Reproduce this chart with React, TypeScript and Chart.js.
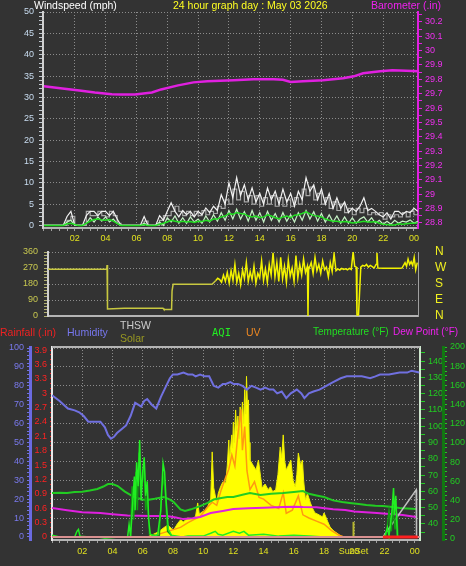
import React, { useEffect, useRef } from 'react';
import { Chart, registerables } from 'chart.js';
Chart.register(...registerables);

const FONT = "'Liberation Sans', Arial, sans-serif";
const BG = '#333333';
const GRID = '#8c8c8c';

// ---------- shared hour axis ----------
const hourTicks = [2, 4, 6, 8, 10, 12, 14, 16, 18, 20, 22, 24];
const hourLabels = ['02', '04', '06', '08', '10', '12', '14', '16', '18', '20', '22', '00'];
const sunsetHour = 19.95;
const sunsetLabel = 'SunSet';

// ---------- panel 1: wind (15-minute samples) + barometer ----------
const windStep = 0.25;
const windGust = [
  0, 0, 0, 0, 0, 0,
  2.1, 3.3, 0, 0, 0,
  2.3, 3.3, 3.3, 2.3, 3.3, 3.3, 2.3, 3.3, 1.5,
  0, 0, 0, 0, 0, 0,
  2.1, 0, 0, 0,
  2.3, 1.2, 3.3, 5.3, 3.3, 2.0, 3.5, 2.5, 3.3, 2.0,
  3.3, 2.5, 4.1, 3.0, 4.5, 3.5, 7.2, 5.0, 10.0, 6.5,
  11.2, 7.0, 9.5, 6.0, 8.8, 5.5, 7.5, 5.0, 8.8, 6.0,
  8.0, 5.0, 8.5, 5.5, 7.5, 4.5, 8.0, 6.0, 11.2, 8.0,
  9.5, 6.0, 8.5, 5.0, 7.5, 4.0, 6.5, 4.0, 5.5, 3.0,
  4.0, 3.3, 4.5, 6.5, 3.5, 4.0, 3.3, 2.5, 2.0, 3.0,
  1.5, 3.3, 3.3, 2.5, 3.3, 3.0, 4.0, 3.3,
];
const windHigh = [
  0, 0, 0, 0, 0, 0,
  1.2, 2.1, 0, 0, 0,
  3.3, 2.3, 2.3, 3.3, 2.3, 2.0, 3.3, 2.3, 0.5,
  0, 0, 0, 0, 0, 0,
  1.0, 0, 0, 0,
  1.2, 2.3, 2.3, 3.3, 4.5, 3.3, 2.3, 3.3, 2.3, 3.3,
  2.3, 3.5, 2.5, 3.3, 2.8, 4.5, 4.0, 6.0, 5.0, 8.5,
  6.0, 8.0, 5.5, 7.0, 5.0, 7.0, 4.5, 6.5, 5.0, 7.0,
  4.5, 6.5, 4.5, 6.0, 4.5, 6.5, 5.0, 8.5, 7.0, 9.0,
  6.0, 7.5, 5.0, 6.5, 4.0, 5.5, 3.5, 5.0, 3.0, 4.0,
  2.5, 4.0, 3.0, 4.0, 2.5, 3.0, 2.5, 3.0, 1.5, 2.5,
  2.0, 2.5, 2.0, 3.0, 2.0, 3.3, 2.5, 3.0,
];
const windSpeed = [
  0, 0, 0, 0, 0, 0,
  0.8, 1.2, 0, 0, 0,
  0.5, 1.8, 0.8, 2.0, 1.0, 2.0, 0.8, 1.5, 0.5,
  0, 0, 0, 0, 0, 0,
  0.5, 0, 0, 0,
  0.8, 0, 1.8, 0.8, 2.2, 0.5, 1.8, 0.5, 2.0, 0.8,
  1.5, 0.5, 2.2, 0.8, 2.5, 1.0, 3.0, 1.2, 3.5, 1.5,
  3.8, 1.5, 3.2, 1.0, 3.5, 1.2, 3.0, 0.8, 3.3, 1.2,
  2.8, 0.8, 3.0, 1.0, 2.5, 0.8, 3.0, 1.2, 3.5, 1.5,
  3.2, 1.0, 2.8, 0.8, 2.5, 0.8, 2.2, 0.5, 2.0, 0.5,
  1.8, 0.5, 1.5, 2.0, 0.8, 1.8, 0.5, 1.2, 0.3, 1.0,
  0.3, 1.2, 0.5, 1.0, 0.8, 1.3, 0.5, 1.0,
];
const windAvg = [
  0, 0, 0, 0, 0, 0,
  0.4, 0.5, 0.2, 0, 0,
  0.5, 1.0, 1.4, 1.5, 1.3, 1.2, 1.4, 1.0, 0.5,
  0, 0, 0, 0, 0, 0,
  0.2, 0, 0, 0,
  0.3, 0.5, 0.8, 1.2, 1.0, 0.8, 1.0, 0.8, 0.9, 0.7,
  1.0, 0.9, 1.2, 1.0, 1.5, 1.5, 2.0, 2.2, 2.8, 2.6,
  3.0, 2.8, 2.7, 2.2, 2.0, 2.2, 1.8, 2.0, 2.5, 2.2,
  1.8, 1.6, 2.0, 2.2, 1.8, 2.4, 2.5, 2.8, 3.2, 2.7,
  2.3, 2.2, 2.0, 1.5, 1.2, 1.0, 1.0, 0.8, 0.9, 0.8,
  0.6, 0.7, 0.8, 1.0, 0.8, 0.8, 0.9, 0.5, 0.3, 0.2,
  0.1, 0.1, 0.4, 0.3, 0.4, 0.5, 0.5, 0.6,
];
const windTicks = [0, 5, 10, 15, 20, 25, 30, 35, 40, 45, 50];

const baroHours = [0, 1.2, 2.3, 3.3, 4.4, 5.0, 5.9, 7.0, 7.6, 8.7, 9.7, 10.6, 12.3, 13.6, 14.9, 15.5, 16.0, 16.8, 18.1, 19.4, 20.1, 20.7, 21.8, 22.6, 23.5, 24.26];
const baroValues = [29.752, 29.737, 29.723, 29.709, 29.697, 29.695, 29.695, 29.709, 29.73, 29.758, 29.779, 29.786, 29.793, 29.8, 29.8, 29.797, 29.782, 29.786, 29.793, 29.807, 29.821, 29.842, 29.856, 29.863, 29.86, 29.856];
const baroTicks = [28.8, 28.9, 29.0, 29.1, 29.2, 29.3, 29.4, 29.5, 29.6, 29.7, 29.8, 29.9, 30.0, 30.1, 30.2];
const baroLabels = ['28.8', '28.9', '29', '29.1', '29.2', '29.3', '29.4', '29.5', '29.6', '29.7', '29.8', '29.9', '30', '30.1', '30.2'];

// ---------- panel 2: wind direction ----------
const dirHours = [
  0, 3.85, 3.87, 3.9, 5.0, 6.5, 7.54, 7.6, 8.1, 8.13, 8.2, 10.75,
  11.0, 11.125, 11.25, 11.375, 11.5, 11.625, 11.75, 11.875, 12.0, 12.125, 12.25, 12.375, 12.5, 12.625, 12.75, 12.875,
  13.0, 13.125, 13.25, 13.375, 13.5, 13.625, 13.75, 13.875, 14.0, 14.125, 14.25, 14.375, 14.5, 14.625, 14.75, 14.875,
  15.0, 15.125, 15.25, 15.375, 15.5, 15.625, 15.75, 15.875, 16.0, 16.125, 16.25, 16.375, 16.5, 16.625, 16.75, 16.875,
  17.0, 17.04, 17.08, 17.25, 17.375, 17.5, 17.625, 17.75, 17.875, 18.0, 18.125, 18.25, 18.375, 18.5, 18.625, 18.75, 18.875,
  19.0, 19.125, 19.25, 19.375, 19.5, 19.625, 19.75, 19.875, 20.0, 20.1, 20.2, 20.25, 20.35, 20.5, 20.625, 20.75, 20.875,
  21.0, 21.125, 21.25, 21.375, 21.5, 21.56, 21.62, 22.0, 22.5, 23.0, 23.2, 23.3, 23.4, 23.5, 23.6, 23.7, 23.8, 23.9, 24.0, 24.1, 24.2,
];
const dirValues = [
  263, 263, 287, 40, 43, 44, 43, 37, 37, 140, 178, 178,
  200, 212, 205, 190, 230, 195, 245, 185, 255, 200, 290, 190, 240, 175, 260, 210,
  300, 195, 250, 205, 280, 185, 240, 215, 310, 200, 265, 190, 290, 230, 356, 220,
  300, 195, 330, 210, 280, 190, 315, 225, 270, 195, 340, 215, 290, 230, 320, 245,
  280, 0, 260, 300, 240, 330, 255, 290, 240, 310, 260, 275, 220, 300, 250, 350, 255,
  265, 258, 268, 262, 265, 260, 268, 262, 360, 280, 275, 5, 5, 275, 285, 280, 290,
  275, 285, 278, 270, 290, 355, 270, 268, 268, 268, 270, 285, 300, 280, 320, 290, 305, 285, 330, 260, 300,
];
const dirTicks = [0, 90, 180, 270, 360];
const compassLabels = ['N', 'E', 'S', 'W', 'N'];

// ---------- panel 3 ----------
const humHours = [0, 0.5, 1.05, 1.5, 1.8, 2.1, 2.4, 2.8, 3.2, 3.5, 3.7, 3.9, 4.1, 4.3, 4.6, 4.9, 5.2, 5.5, 5.7, 5.9, 6.1, 6.3, 6.6, 6.9, 7.2, 7.5, 7.8, 8.0, 8.3, 8.7, 9.0, 9.3, 9.5, 9.8, 10.1, 10.4, 10.7, 11.0, 11.3, 11.5, 11.8, 12.0, 12.3, 12.6, 12.9, 13.2, 13.5, 13.8, 14.1, 14.4, 14.65, 14.9, 15.2, 15.5, 15.8, 16.2, 16.5, 16.7, 17.0, 17.3, 17.7, 18.15, 18.6, 19.1, 19.5, 19.9, 20.5, 21.05, 21.4, 21.7, 22.3, 23.0, 23.5, 23.8, 24.3];
const humValues = [75, 72, 68, 67, 66, 64, 61, 61, 61, 58, 54, 52, 53, 55, 57, 59, 64, 71, 70, 69, 72, 73, 70, 68, 74, 79, 84, 86, 86, 87, 86, 86, 85, 86, 85, 85, 80, 79, 81, 81, 82, 81, 81, 80, 78, 80, 79, 78, 79, 78, 78, 76, 77, 73.5, 76, 78, 76, 73.5, 76, 77, 78, 80, 82, 84, 85, 85, 85, 84, 85, 86, 86, 87, 87, 88, 87];

const tempHours = [0, 0.5, 1.0, 1.5, 2.0, 2.5, 3.0, 3.4, 3.7, 4.0, 4.35, 4.8, 5.4, 6.0, 6.3, 6.8, 7.4, 7.8, 8.05, 8.5, 8.8, 9.2, 9.8, 10.3, 10.7, 11.2, 11.6, 12.0, 12.6, 13.1, 13.8, 14.5, 15.3, 16.0, 16.6, 17.0, 17.5, 18.0, 18.6, 19.2, 19.7, 20.3, 20.8, 21.4, 21.9, 22.5, 23.0, 23.5, 24.1];
const tempValues = [59, 59.2, 59, 59.6, 59.8, 60.5, 61.5, 63, 64.5, 64.5, 63.3, 60, 56.6, 55, 54.7, 55.5, 56.6, 55, 53.5, 49, 48, 49, 51, 53, 55, 56, 56.6, 56.6, 58, 59, 57.8, 58.5, 59, 59.6, 60.2, 58.5, 57.5, 56.6, 54.5, 53.5, 52.9, 52.3, 51.7, 51.2, 51, 50.5, 49.8, 49.5, 49.2];

const dewHours = [0, 1.0, 2.0, 3.2, 4.0, 5.0, 6.5, 7.6, 8.2, 8.7, 9.3, 9.8, 10.5, 11.3, 12.0, 13.0, 14.0, 15.3, 16.0, 16.6, 17.5, 18.6, 19.4, 20.0, 20.5, 21.5, 22.5, 23.2, 24.1];
const dewValues = [49.8, 48.5, 47.2, 46.7, 46, 45.2, 44.9, 44.9, 44, 43, 43.5, 44.3, 46.7, 48, 49.2, 49.6, 50, 50.4, 50.6, 50.4, 50.3, 49, 48.6, 47.6, 47.4, 46.8, 46, 45.5, 44.3];

const solarHours = [6.3, 6.6, 7.0, 7.2, 7.5, 7.66, 7.9, 8.05, 8.3, 8.5, 8.7, 8.98, 9.3, 9.5, 9.64, 9.75, 9.83, 10.1, 10.3, 10.5, 10.6, 10.7, 10.9, 11.0, 11.15, 11.3, 11.5, 11.6, 11.7, 11.75, 11.8, 11.9, 11.95, 12.0, 12.07, 12.15, 12.22, 12.3, 12.38, 12.45, 12.52, 12.6, 12.68, 12.75, 12.82, 12.87, 12.93, 13.0, 13.05, 13.1, 13.3, 13.5, 13.66, 13.8, 13.9, 14.1, 14.3, 14.45, 14.6, 14.8, 14.95, 15.1, 15.2, 15.3, 15.4, 15.5, 15.65, 15.8, 15.95, 16.1, 16.2, 16.3, 16.45, 16.57, 16.65, 16.77, 16.9, 17.1, 17.25, 17.4, 17.6, 17.9, 18.0, 18.1, 18.25, 18.4, 18.6, 18.75, 19.0, 19.1, 19.4];
const solarValues = [0, 10, 25, 37, 55, 63, 45, 37, 70, 90, 80, 100, 95, 110, 180, 120, 127, 140, 160, 200, 450, 260, 180, 230, 265, 290, 286, 380, 513, 400, 460, 540, 470, 608, 500, 672, 560, 640, 520, 688, 580, 714, 600, 780, 650, 850, 700, 725, 500, 407, 380, 354, 407, 320, 259, 280, 250, 265, 240, 249, 330, 476, 420, 540, 400, 354, 380, 407, 300, 265, 330, 444, 380, 407, 300, 196, 230, 180, 150, 127, 120, 106, 127, 110, 80, 53, 35, 26, 12, 5, 0];

const uvHours = [6.5, 7.5, 8.5, 9.0, 9.8, 10.3, 10.6, 10.9, 11.2, 11.5, 11.7, 11.9, 12.1, 12.3, 12.5, 12.6, 12.75, 12.9, 13.1, 13.4, 13.7, 14.0, 14.5, 15.0, 15.3, 15.5, 15.9, 16.3, 16.6, 17.0, 17.5, 18.0, 18.5, 19.0, 19.3];
const uvValues = [0, 0.3, 0.6, 0.9, 1.3, 1.9, 2.2, 2.0, 3.0, 3.8, 4.3, 5.2, 4.5, 6.5, 8.1, 5.5, 7.0, 4.2, 3.0, 3.5, 2.5, 2.4, 2.0, 1.8, 2.8, 1.5, 1.7, 2.6, 1.4, 1.2, 1.0, 0.8, 0.4, 0.1, 0];

const aqiHours = [0, 0.5, 1.0, 1.5, 1.65, 1.75, 1.85, 2.5, 3.0, 3.5, 4.5, 5.0, 5.1, 5.2, 5.35, 5.45, 5.5, 5.6, 5.7, 5.8, 5.9, 6.0, 6.1, 6.2, 6.3, 6.4, 6.5, 6.8, 7.0, 7.2, 7.35, 7.45, 7.55, 7.7, 7.9, 8.3, 8.6, 9.0, 10.0, 10.5, 10.8, 11.0, 11.3, 12.0, 12.4, 12.7, 13.0, 14.0, 15.0, 16.0, 17.0, 18.0, 19.0, 20.0, 21.0, 22.0, 22.2, 22.3, 22.5, 22.6, 22.65, 22.75, 22.85, 23.0, 24.0];
const aqiValues = [4, 2, 2, 2, 8, 10, 3, 2, 2, 1, 2, 2, 15, 3, 40, 65, 30, 80, 55, 103, 40, 70, 85, 45, 60, 20, 5, 3, 5, 30, 79, 70, 40, 10, 4, 3, 2, 3, 3, 6, 8, 5, 4, 8, 6, 8, 4, 5, 3, 4, 3, 2, 2, 2, 2, 2, 12, 3, 30, 53, 25, 45, 3, 2, 2];

const aqiHourHours = [5.2, 5.3, 5.4, 5.55, 5.65, 5.75, 5.85, 6.0, 6.1, 6.2, 6.3, 6.45, 7.1, 7.25, 7.4, 7.5, 7.65, 8.0, 15, 22.1, 22.3, 22.45, 22.55, 22.7, 22.8, 22.9];
const aqiHourValues = [2, 55, 20, 70, 30, 90, 50, 60, 75, 30, 45, 5, 3, 50, 65, 45, 8, 2, null, 2, 30, 8, 33, 10, 28, 2];

const thswHours = [21.9, 24.1, 24.12];
const thswValues = [32, 61, 32];

const rainHours = [0, 24.35];
const rainValues = [0, 0];
const rainRateHours = [21.9, 24.2];
const rainRateValues = [0, 0];

const humTicks = [0, 10, 20, 30, 40, 50, 60, 70, 80, 90, 100];
const rainTicks = [0, 0.3, 0.6, 0.9, 1.2, 1.5, 1.8, 2.1, 2.4, 2.7, 3.0, 3.3, 3.6, 3.9];
const rainLabels = ['0', '0.3', '0.6', '0.9', '1.2', '1.5', '1.8', '2.1', '2.4', '2.7', '3', '3.3', '3.6', '3.9'];
const tempTicks = [40, 50, 60, 70, 80, 90, 100, 110, 120, 130, 140];
const aqiTicks = [0, 20, 40, 60, 80, 100, 120, 140, 160, 180, 200];

// ---------- helpers ----------
const pts = (xs: number[], ys: (number | null)[]) => xs.map((x, i) => ({ x, y: ys[i] }));
const near = (a: number, b: number) => Math.abs(a - b) < 1e-6;
const steps = (from: number, to: number, step: number) => {
  const out: number[] = [];
  for (let v = from; v <= to + 1e-9; v += step) out.push(Math.round(v * 1000) / 1000);
  return out;
};
const setTicks = (vals: number[]) => (ax: any) => { ax.ticks = vals.map((v) => ({ value: v })); };
const labelFrom = (ticks: number[], labels: string[]) => (v: any) => {
  const k = ticks.findIndex((t) => near(t, Number(v)));
  return k >= 0 ? labels[k] : '';
};
const gridAt = (ticks: number[], color = GRID) => (c: any) =>
  c.tick && ticks.some((t) => near(t, c.tick.value)) ? color : 'transparent';
const f9 = { family: FONT, size: 9 };
const line = (extra: any) => ({ pointRadius: 0, borderWidth: 1.5, tension: 0, ...extra });
const baseOpts = (padTop: number) => ({
  responsive: false,
  animation: false as const,
  events: [] as any[],
  layout: { padding: { top: padTop, left: 0, right: 0, bottom: 0 } },
  plugins: { legend: { display: false }, tooltip: { enabled: false }, title: { display: false } },
});

const halfHours = steps(0, 24, 0.5);
const hourLabelCb = labelFrom(hourTicks, hourLabels);

function cfgWind(): any {
  const windTimes = windGust.map((_, i) => i * windStep);
  return {
    type: 'line',
    data: {
      datasets: [
        line({ data: pts(baroHours, baroValues), yAxisID: 'yB', borderColor: '#e020e0', borderWidth: 2.5 }),
        line({ data: pts(windTimes, windAvg), yAxisID: 'yW', borderColor: '#22dd22', borderWidth: 1.5 }),
        line({ data: pts(windTimes, windSpeed), yAxisID: 'yW', borderColor: '#c6f2c6', borderWidth: 1.2 }),
        line({ data: pts(windTimes, windGust), yAxisID: 'yW', borderColor: '#f2f2f2', borderWidth: 1.2 }),
        line({ data: pts(windTimes, windHigh), yAxisID: 'yW', borderColor: '#a8a8a8', borderWidth: 1.2, stepped: true }),
      ],
    },
    options: {
      ...baseOpts(12),
      scales: {
        x: {
          type: 'linear', min: -0.06, max: 24.26,
          afterFit: (s: any) => { s.height = 18; },
          afterBuildTicks: setTicks(halfHours),
          ticks: { autoSkip: false, maxRotation: 0, minRotation: 0, padding: 2, color: '#e0e020', font: f9, callback: hourLabelCb },
          grid: { color: gridAt(hourTicks), tickColor: '#a0a0a0', tickLength: 3 },
          border: { color: '#b4b4b4', width: 2, dash: [1, 2] },
        },
        yW: {
          position: 'left', min: -0.6, max: 50,
          afterFit: (s: any) => { s.width = 43; },
          afterBuildTicks: setTicks(steps(0, 50, 1)),
          ticks: { autoSkip: false, padding: 5, color: '#c8dcf0', font: f9, callback: labelFrom(windTicks, windTicks.map(String)) },
          grid: { color: gridAt(windTicks), tickColor: '#c0c8d0', tickLength: 4 },
          border: { color: '#d0d0d0', width: 2, dash: [1, 2] },
        },
        yB: {
          position: 'right', min: 28.765, max: 30.269,
          afterFit: (s: any) => { s.width = 48; },
          afterBuildTicks: setTicks(steps(28.8, 30.25, 0.05)),
          ticks: { autoSkip: false, padding: 3, color: '#f030f0', font: f9, callback: labelFrom(baroTicks, baroLabels) },
          grid: { drawOnChartArea: false, tickColor: '#e020e0', tickLength: 4 },
          border: { color: '#e020e0', width: 2 },
        },
      },
    },
  };
}

function cfgDir(): any {
  return {
    type: 'line',
    data: {
      datasets: [
        line({
          data: pts(dirHours, dirValues), yAxisID: 'yD', borderColor: '#f2f200', borderWidth: 1.5,
          segment: { borderColor: (c: any) => (c.p0.parsed.x < 10.8 ? '#c8c840' : '#f2f200') },
        }),
      ],
    },
    options: {
      ...baseOpts(12),
      scales: {
        x: {
          type: 'linear', min: 0, max: 24.25,
          afterFit: (s: any) => { s.height = 12; },
          ticks: { display: false },
          grid: { display: false },
          border: { color: '#b4b4b4', width: 2 },
        },
        yD: {
          position: 'left', min: 0, max: 360,
          afterFit: (s: any) => { s.width = 48; },
          afterBuildTicks: setTicks(steps(0, 360, 18)),
          ticks: { autoSkip: false, padding: 6, color: '#c8c850', font: f9, callback: labelFrom(dirTicks, dirTicks.map(String)) },
          grid: { color: gridAt([90, 180, 270, 360]), tickColor: '#b0b070', tickLength: 4 },
          border: { color: '#d0d0d0', width: 2, dash: [1, 2] },
        },
        yC: {
          position: 'right', min: 0, max: 360,
          afterFit: (s: any) => { s.width = 48; },
          afterBuildTicks: setTicks(dirTicks),
          ticks: { autoSkip: false, padding: 0, color: '#f0f020', font: { family: FONT, size: 12 }, callback: labelFrom(dirTicks, compassLabels) },
          grid: { drawOnChartArea: false, drawTicks: true, tickLength: 17, tickColor: 'transparent' },
          border: { color: '#a0a0a0', width: 1 },
        },
      },
    },
  };
}

const topLine = {
  id: 'topLine',
  beforeDatasetsDraw(chart: any) {
    const { ctx, chartArea: a } = chart;
    ctx.save();
    ctx.strokeStyle = '#b4b4b4';
    ctx.lineWidth = 2;
    ctx.beginPath();
    ctx.moveTo(a.left, a.top);
    ctx.lineTo(a.right, a.top);
    ctx.stroke();
    ctx.restore();
  },
};

function cfgMain(): any {
  const xTicks = [...halfHours, sunsetHour].sort((a, b) => a - b);
  return {
    type: 'line',
    data: {
      datasets: [
        line({ data: pts(rainRateHours, rainRateValues), yAxisID: 'yR', borderColor: '#ff2020', borderWidth: 3 }),
        line({ data: pts(rainHours, rainValues), yAxisID: 'yR', borderColor: '#d89090', borderWidth: 2 }),
        line({ data: pts(aqiHours, aqiValues), yAxisID: 'yA', borderColor: '#22ee22', borderWidth: 1.5 }),
        line({ data: pts(aqiHourHours, aqiHourValues), yAxisID: 'yA', borderColor: '#139a13', borderWidth: 1.5 }),
        line({ data: pts(thswHours, thswValues), yAxisID: 'yT', borderColor: '#c0c0c0', borderWidth: 1.5 }),
        line({ data: pts(tempHours, tempValues), yAxisID: 'yT', borderColor: '#22cc22', borderWidth: 2 }),
        line({ data: pts(dewHours, dewValues), yAxisID: 'yT', borderColor: '#e020e0', borderWidth: 2 }),
        line({ data: pts(humHours, humValues), yAxisID: 'yH', borderColor: '#7070e0', borderWidth: 2 }),
        line({ data: pts(uvHours, uvValues), yAxisID: 'yU', borderColor: '#ff9a10', borderWidth: 1.5 }),
        line({ data: pts(solarHours, solarValues), yAxisID: 'yS', borderColor: '#f0f000', backgroundColor: '#ffff00', borderWidth: 1, fill: 'origin' }),
        line({ data: pts([sunsetHour, sunsetHour], [0, 80]), yAxisID: 'yS', borderColor: '#b8b830', borderWidth: 2 }),
      ],
    },
    options: {
      ...baseOpts(25),
      scales: {
        x: {
          type: 'linear', min: 0, max: 24.35,
          afterFit: (s: any) => { s.height = 26; },
          afterBuildTicks: setTicks(xTicks),
          ticks: {
            autoSkip: false, maxRotation: 0, minRotation: 0, padding: 3, color: '#e0e020', font: f9,
            callback: labelFrom([...hourTicks, sunsetHour], [...hourLabels, sunsetLabel]),
          },
          grid: {
            color: gridAt(hourTicks),
            tickColor: (c: any) => (c.tick && near(c.tick.value, sunsetHour) ? 'transparent' : '#a0a0a0'),
            tickLength: 3,
          },
          border: { color: '#b4b4b4', width: 2, dash: [1, 2] },
        },
        yR: {
          position: 'left', min: -0.063, max: 3.963,
          afterFit: (s: any) => { s.width = 22; },
          afterBuildTicks: setTicks(steps(0, 3.9, 0.1)),
          ticks: { autoSkip: false, padding: 3, color: '#ff2222', font: f9, callback: labelFrom(rainTicks, rainLabels) },
          grid: { drawOnChartArea: false, tickColor: '#ee2020', tickLength: 2 },
          border: { color: '#e8e8e8', width: 2 },
        },
        yH: {
          position: 'left', min: -1.59, max: 100.53,
          afterFit: (s: any) => { s.width = 30; },
          afterBuildTicks: setTicks(steps(0, 100, 2)),
          ticks: { autoSkip: false, padding: 3, color: '#7a7aee', font: f9, callback: labelFrom(humTicks, humTicks.map(String)) },
          grid: { color: gridAt(humTicks.filter((t) => t > 0)), tickColor: '#7070e0', tickLength: 3 },
          border: { color: '#6a6ae0', width: 3, dash: [1, 2] },
        },
        yT: {
          position: 'right', min: 30.18, max: 148.6,
          afterFit: (s: any) => { s.width = 23; },
          afterBuildTicks: setTicks(steps(35, 145, 5)),
          ticks: { autoSkip: false, padding: 3, color: '#22cc22', font: f9, callback: labelFrom(tempTicks, tempTicks.map(String)) },
          grid: { drawOnChartArea: false, tickColor: '#22cc22', tickLength: 5 },
          border: { color: '#d0e8d0', width: 2 },
        },
        yA: {
          position: 'right', min: -1.04, max: 200,
          afterFit: (s: any) => { s.width = 23; },
          afterBuildTicks: setTicks(steps(0, 200, 5)),
          ticks: { autoSkip: false, padding: 3, color: '#22cc22', font: f9, callback: labelFrom(aqiTicks, aqiTicks.map(String)) },
          grid: { drawOnChartArea: false, tickColor: '#22cc22', tickLength: 4 },
          border: { color: '#117711', width: 3 },
        },
        yS: { display: false, min: -16, max: 1005 },
        yU: { display: false, min: -0.2, max: 12.06 },
      },
    },
    plugins: [topLine],
  };
}

const txt = (left: number, top: number, color: string, extra: any = {}) => ({
  position: 'absolute' as const, left, top, color, fontSize: 10.5, lineHeight: '12px', whiteSpace: 'nowrap' as const, fontFamily: FONT, ...extra,
});

export default function App() {
  const c1 = useRef<HTMLCanvasElement>(null);
  const c2 = useRef<HTMLCanvasElement>(null);
  const c3 = useRef<HTMLCanvasElement>(null);

  useEffect(() => {
    const charts = [
      new Chart(c1.current as HTMLCanvasElement, cfgWind()),
      new Chart(c2.current as HTMLCanvasElement, cfgDir()),
      new Chart(c3.current as HTMLCanvasElement, cfgMain()),
    ];
    return () => charts.forEach((c) => c.destroy());
  }, []);

  return (
    <div style={{ position: 'fixed', left: 0, top: 0, width: 466, height: 566, background: BG, overflow: 'hidden' }}>
      <canvas ref={c1} width={466} height={246} style={{ position: 'absolute', left: 0, top: 0 }} />
      <canvas ref={c2} width={466} height={88} style={{ position: 'absolute', left: 0, top: 240 }} />
      <canvas ref={c3} width={466} height={244} style={{ position: 'absolute', left: 0, top: 322 }} />

      <div style={txt(34, -1, '#ffffff')}>Windspeed (mph)</div>
      <div style={txt(173, -1, '#ffff22')}>24 hour graph day : May 03 2026</div>
      <div style={txt(371, -1, '#ee22ee')}>Barometer (.in)</div>

      <div style={txt(0, 326, '#ee2222')}>Rainfall (.in)</div>
      <div style={txt(67, 326, '#7777ee')}>Humidity</div>
      <div style={txt(120, 319, '#cccccc')}>THSW</div>
      <div style={txt(120, 332, '#999922')}>Solar</div>
      <div style={txt(212, 326, '#22ee22', { fontFamily: "'DejaVu Sans Mono', monospace", fontSize: 10.5 })}>AQI</div>
      <div style={txt(246, 326, '#ee8822')}>UV</div>
      <div style={txt(313, 326, '#22dd22', { fontSize: 10 })}>Temperature (°F)</div>
      <div style={txt(393, 326, '#ee22ee', { fontSize: 10 })}>Dew Point (°F)</div>
    </div>
  );
}
